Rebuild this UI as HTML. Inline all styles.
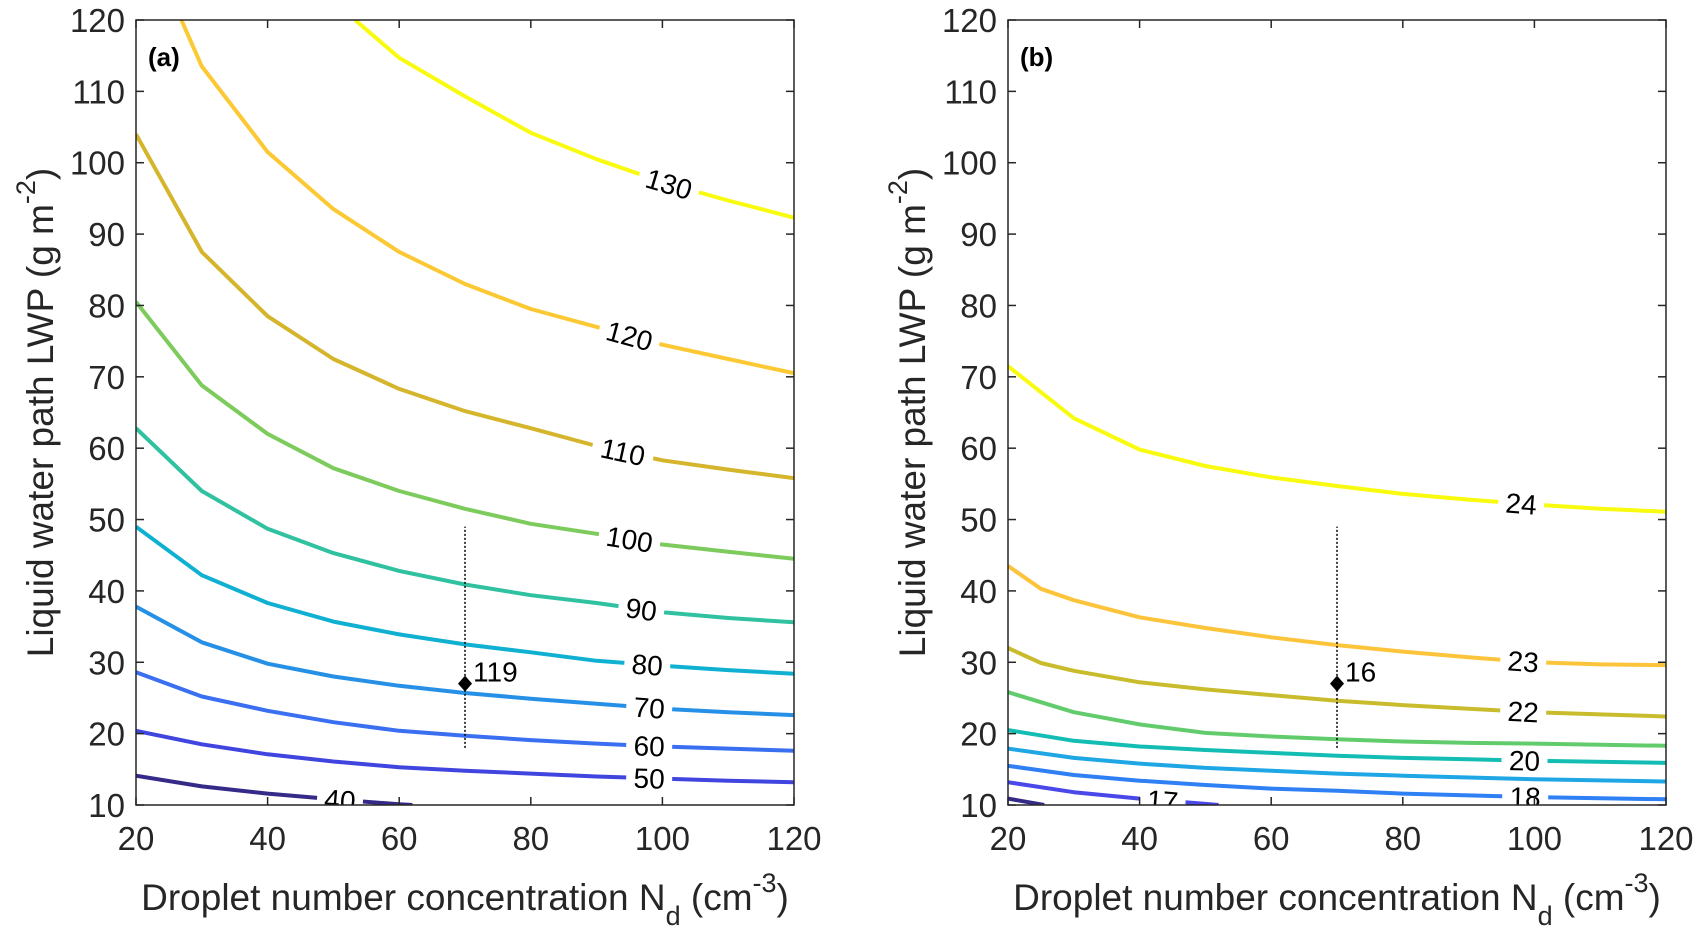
<!DOCTYPE html>
<html><head><meta charset="utf-8"><style>
html,body{margin:0;padding:0;background:#fff;}
svg{display:block;font-family:"Liberation Sans",sans-serif;}
</style></head><body>
<svg id="fig" width="1708" height="938" viewBox="0 0 1708 938"></svg>
<script>
const NS='http://www.w3.org/2000/svg';
const xTicks=[20,40,60,80,100,120];
const yTicks=[10,20,30,40,50,60,70,80,90,100,110,120];
// Panel (a)
const aLevels=[40,50,60,70,80,90,100,110,120,130];
const aColors=['#352a87','#4145e0','#3a6ff2','#2690e6','#0fb0d2','#30c2a0','#7ccb5c','#d4b52c','#fcc934','#f9fb0e'];
const aX=[
 [20,30,40,50,60,62],
 [20,30,40,50,60,70,80,90,100,110,120],
 [20,30,40,50,60,70,80,90,100,110,120],
 [20,30,40,50,60,70,80,90,100,110,120],
 [20,30,40,50,60,70,80,90,100,110,120],
 [20,30,40,50,60,70,80,90,100,110,120],
 [20,30,40,50,60,70,80,90,100,110,120],
 [20,30,40,50,60,70,80,90,100,110,120],
 [26.9,30,40,50,60,70,80,90,100,110,120],
 [53.3,60,70,80,90,100,110,120]];
const aY=[
 [14.1,12.6,11.6,10.8,10.1,10],
 [20.4,18.5,17.1,16.1,15.3,14.8,14.4,14.0,13.7,13.4,13.2],
 [28.6,25.2,23.2,21.6,20.4,19.7,19.1,18.6,18.2,17.9,17.6],
 [37.8,32.8,29.8,28.0,26.7,25.7,24.9,24.2,23.5,23.0,22.6],
 [49.0,42.2,38.3,35.7,33.9,32.5,31.4,30.2,29.5,28.9,28.4],
 [62.8,54.0,48.7,45.3,42.8,40.9,39.4,38.3,37.0,36.2,35.6],
 [80.5,68.8,62.0,57.2,54.0,51.5,49.4,48.0,46.5,45.5,44.5],
 [104,87.5,78.5,72.5,68.3,65.2,62.8,60.3,58.3,57.0,55.8],
 [120,113.5,101.5,93.5,87.5,83.0,79.5,77.0,74.5,72.5,70.5],
 [120,114.7,109.3,104.2,100.5,97.3,94.7,92.3]];
const aLabX=[51,98,98,98,97.7,96.8,95,94,95,101];
// Panel (b)
const bLevels=[16,17,18,19,20,21,22,23,24];
const bColors=['#352a87','#4a48e8','#2f7ff5','#1fa6e4','#14bdb4','#62cc6c','#c8bc2c','#fcc43a','#f9fb0e'];
const bX=[
 [20,25.5],
 [20,30,40,50,52],
 [20,30,40,50,60,70,80,100,120],
 [20,30,40,50,60,70,80,100,120],
 [20,30,40,50,60,70,80,90,100,120],
 [20,30,40,50,60,70,80,90,100,120],
 [20,25,30,40,50,60,70,80,90,100,110,120],
 [20,25,30,40,50,60,70,80,90,100,110,120],
 [20,30,40,50,60,70,80,90,100,110,120]];
const bY=[
 [10.9,10],
 [13.2,11.8,10.9,10.15,10],
 [15.5,14.2,13.4,12.8,12.3,12.0,11.6,11.1,10.8],
 [17.9,16.6,15.8,15.2,14.8,14.4,14.1,13.6,13.3],
 [20.5,19.0,18.2,17.7,17.3,16.9,16.6,16.4,16.2,15.9],
 [25.8,23.0,21.3,20.1,19.6,19.2,18.9,18.7,18.6,18.3],
 [32.0,29.9,28.8,27.2,26.2,25.4,24.6,24.0,23.5,23.0,22.7,22.4],
 [43.5,40.3,38.7,36.3,34.8,33.5,32.4,31.5,30.7,30.0,29.7,29.6],
 [71.5,64.2,59.8,57.5,55.9,54.7,53.6,52.8,52.1,51.5,51.1]];
const bLabX=[null,43.5,98.6,null,98.5,null,98.3,98.3,98];
const markX=[70], markY=[27], errLo=[18], errHi=[49];
const markText=['119','16'];

const svg=document.getElementById('fig');
function el(tag,attrs,parent){const e=document.createElementNS(NS,tag);for(const k in attrs)e.setAttribute(k,attrs[k]);(parent||svg).appendChild(e);return e;}
function interp(xs,ys,x){for(let i=0;i<xs.length-1;i++){if(x>=xs[i]&&x<=xs[i+1]){const t=(x-xs[i])/(xs[i+1]-xs[i]);return ys[i]+t*(ys[i+1]-ys[i]);}}return ys[ys.length-1];}

function panel(id,L,R,T,B,levels,colors,XS,YS,labX,tag,mtext){
  const sx=v=>L+(v-20)/100*(R-L), sy=v=>B-(v-10)/110*(B-T);
  const g=el('g',{});  
  const clip=el('clipPath',{id:'clip'+id},g); el('rect',{x:L,y:T,width:R-L,height:B-T},clip);
  const cg=el('g',{'clip-path':'url(#clip'+id+')'},g);
  levels.forEach((lv,i)=>{
    const d=XS[i].map((x,j)=>(j?'L':'M')+sx(x).toFixed(1)+' '+sy(YS[i][j]).toFixed(1)).join(' ');
    const p=el('path',{d:d,fill:'none',stroke:colors[i],'stroke-width':4,'stroke-linejoin':'round'},cg);
    
    
  });
  levels.forEach((lv,i)=>{
    if(labX[i]==null)return;
    const x=labX[i], y=interp(XS[i],YS[i],x);
    const x1=x-2,x2=x+2;
    const ang=Math.atan2(sy(interp(XS[i],YS[i],Math.min(x2,XS[i][XS[i].length-1])))-sy(interp(XS[i],YS[i],Math.max(x1,XS[i][0]))),sx(x2)-sx(x1))*180/Math.PI;
    const px=sx(x),py=sy(y);
    const lg=el('g',{transform:`translate(${px.toFixed(1)},${py.toFixed(1)}) rotate(${ang.toFixed(1)})`},cg);
    const w=String(lv).length*16+14;
    el('rect',{x:-w/2,y:-9,width:w,height:18,fill:'#fff'},lg);
    const t=el('text',{x:0,y:10,'text-anchor':'middle','font-size':28,fill:'#000'},lg);
    t.textContent=String(lv);
    
    
  });
  const ln=el('line',{x1:sx(markX[0]),x2:sx(markX[0]),y1:sy(errLo[0]),y2:sy(errHi[0]),stroke:'#000','stroke-width':1.5,'stroke-dasharray':'2 2'},g);
   
  const mx=sx(markX[0]),my=sy(markY[0]);
  const dm=el('polygon',{points:`${mx},${my-8} ${mx+7},${my} ${mx},${my+8} ${mx-7},${my}`,fill:'#000'},g);
   
  const mt=el('text',{x:mx+8,y:my-2,'font-size':28,fill:'#000'},g); mt.textContent=mtext;
   
  const bx=el('rect',{x:L,y:T,width:R-L,height:B-T,fill:'none',stroke:'#262626','stroke-width':1.5},g);
   
  xTicks.forEach(v=>{const x=sx(v);
    el('line',{x1:x,x2:x,y1:B,y2:B-8,stroke:'#262626','stroke-width':1.5},g);
    el('line',{x1:x,x2:x,y1:T,y2:T+8,stroke:'#262626','stroke-width':1.5},g);
    const t=el('text',{x:x,y:B+45,'text-anchor':'middle','font-size':33,fill:'#262626'},g);t.textContent=v;
     });
  yTicks.forEach(v=>{const y=sy(v);
    el('line',{x1:L,x2:L+8,y1:y,y2:y,stroke:'#262626','stroke-width':1.5},g);
    el('line',{x1:R,x2:R-8,y1:y,y2:y,stroke:'#262626','stroke-width':1.5},g);
    const t=el('text',{x:L-11,y:y+12,'text-anchor':'end','font-size':33,fill:'#262626'},g);t.textContent=v;
     });
  const pt=el('text',{x:L+12,y:T+46,'font-size':26,'font-weight':'bold',fill:'#000'},g); pt.textContent=tag;
   
  const xl=el('text',{x:(L+R)/2,y:910,'text-anchor':'middle','font-size':37,fill:'#262626'},g);
  xl.innerHTML='Droplet number concentration N<tspan dy="15" font-size="27">d</tspan><tspan dy="-15"> (cm</tspan><tspan dy="-18" font-size="27">-3</tspan><tspan dy="18">)</tspan>';
   
  const yl=el('text',{x:0,y:0,'text-anchor':'middle','font-size':37,fill:'#262626',transform:`translate(${L-83},${(T+B)/2}) rotate(-90)`},g);
  yl.innerHTML='Liquid water path LWP (g m<tspan dy="-18" font-size="27">-2</tspan><tspan dy="18">)</tspan>';
   
}
panel('a',136,794,20,805,aLevels,aColors,aX,aY,aLabX,'(a)',markText[0]);
panel('b',1008,1666,20,805,bLevels,bColors,bX,bY,bLabX,'(b)',markText[1]);
</script>
</body></html>
